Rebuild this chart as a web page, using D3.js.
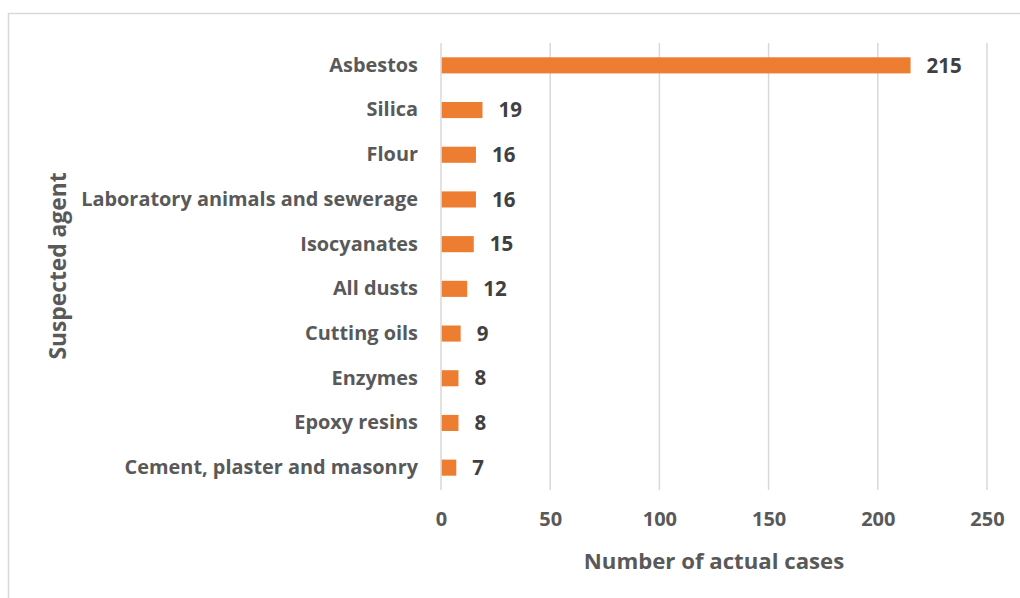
<!DOCTYPE html>
<html>
<head>
<meta charset="utf-8">
<script src="https://cdn.jsdelivr.net/npm/d3@7"></script>
<style>
  html, body { margin: 0; padding: 0; background: #fff; }
  svg { display: block; font-family: "Open Sans", "DejaVu Sans", sans-serif; font-weight: bold; }
</style>
</head>
<body>
<script>
// Occupational disease cases by suspected agent
const agents = [
  "Asbestos",
  "Silica",
  "Flour",
  "Laboratory animals and sewerage",
  "Isocyanates",
  "All dusts",
  "Cutting oils",
  "Enzymes",
  "Epoxy resins",
  "Cement, plaster and masonry"
];
const cases = [215, 19, 16, 16, 15, 12, 9, 8, 8, 7];
const xTicks = [0, 50, 100, 150, 200, 250];
const xTitle = "Number of actual cases";
const yTitle = "Suspected agent";

const W = 1020, H = 598;
const plot = { left: 441, right: 987, top: 43, bottom: 490 };

const svg = d3.select("body").append("svg")
  .attr("width", W).attr("height", H);

// chart frame (runs off the right and bottom edges)
svg.append("rect")
  .attr("x", 8.5).attr("y", 13.5)
  .attr("width", W + 20).attr("height", H + 20)
  .attr("fill", "#fff")
  .attr("stroke", "#d9d9d9").attr("stroke-width", 1.5);

const x = d3.scaleLinear().domain([0, 250]).range([plot.left, plot.right]);
const y = d3.scaleBand().domain(agents)
  .range([plot.top, plot.bottom])
  .paddingInner(0.64).paddingOuter(0.32);

// vertical gridlines
svg.append("g").selectAll("line").data(xTicks).join("line")
  .attr("x1", d => x(d)).attr("x2", d => x(d))
  .attr("y1", plot.top).attr("y2", plot.bottom)
  .attr("stroke", "#d9d9d9").attr("stroke-width", 1.5);

// x tick labels
const xAxis = d3.axisBottom(x).tickValues(xTicks).tickSize(0).tickPadding(0);
const gx = svg.append("g")
  .attr("transform", `translate(0, ${plot.bottom + 22})`)
  .call(xAxis);
gx.select(".domain").remove();
gx.selectAll("text")
  .attr("dy", "0.71em")
  .attr("font-family", "Open Sans")
  .attr("font-weight", "bold")
  .attr("font-size", 20)
  .attr("fill", "#595959");

// category labels
const yAxis = d3.axisLeft(y).tickSize(0).tickPadding(0);
const gy = svg.append("g")
  .attr("transform", `translate(${plot.left - 23}, 0)`)
  .call(yAxis);
gy.select(".domain").remove();
gy.selectAll("text")
  .attr("font-family", "Open Sans")
  .attr("font-weight", "bold")
  .attr("font-size", 19.9)
  .attr("fill", "#595959");

// bars
svg.append("g").selectAll("rect").data(agents).join("rect")
  .attr("x", x(0) + 0.75)
  .attr("y", d => y(d))
  .attr("width", (d, i) => x(cases[i]) - x(0) - 0.75)
  .attr("height", y.bandwidth())
  .attr("fill", "#ed7d31");

// value labels
svg.append("g").selectAll("text").data(agents).join("text")
  .attr("x", (d, i) => x(cases[i]) + 16)
  .attr("y", d => y(d) + y.bandwidth() / 2)
  .attr("dy", "0.35em")
  .attr("font-size", 20.5)
  .attr("fill", "#404040")
  .text((d, i) => cases[i]);

// axis titles
svg.append("text")
  .attr("x", 714)
  .attr("y", 561)
  .attr("dy", "0.35em")
  .attr("text-anchor", "middle")
  .attr("font-size", 22.2)
  .attr("fill", "#595959")
  .text(xTitle);

svg.append("text")
  .attr("transform", `translate(66, 266) rotate(-90)`)
  .attr("text-anchor", "middle")
  .attr("font-size", 22.8)
  .attr("fill", "#595959")
  .text(yTitle);
</script>
</body>
</html>
